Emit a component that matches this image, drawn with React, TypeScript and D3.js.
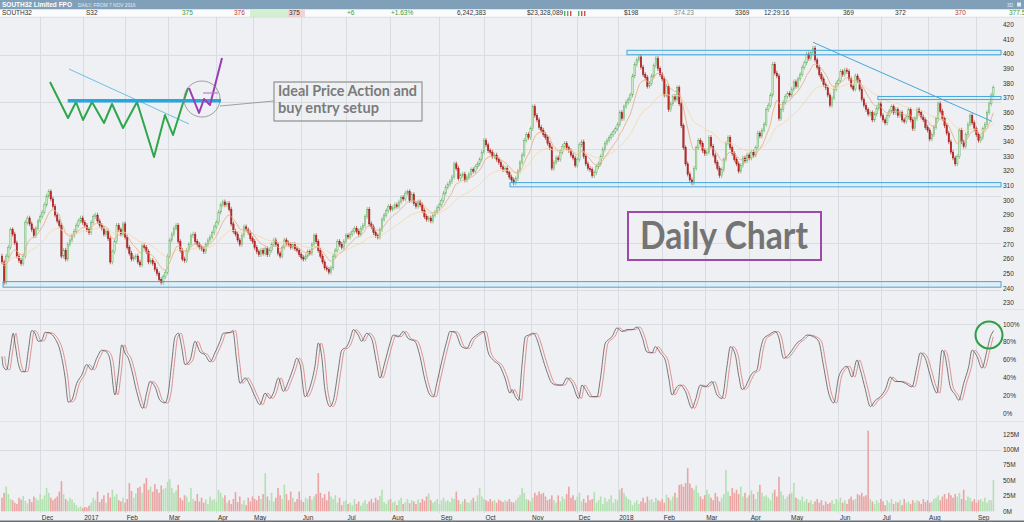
import React, { useRef, useEffect } from 'react';
import * as d3 from 'd3';

// daily closes (cents), one per trading day from 7 Nov 2016
const closes = [
  258, 244, 262, 268, 280, 277, 271, 262, 259, 257,
  262, 285, 288, 284, 280, 276, 281, 286, 289, 292,
  297, 303, 306, 301, 296, 290, 286, 283, 262, 266,
  260, 270, 273, 276, 279, 283, 286, 288, 285, 283,
  280, 278, 285, 289, 290, 286, 283, 281, 277, 279,
  274, 258, 265, 272, 283, 280, 277, 284, 275, 268,
  264, 260, 261, 262, 258, 256, 269, 268, 265, 258,
  259, 257, 253, 250, 246, 244, 248, 251, 262, 273,
  277, 281, 283, 272, 266, 260, 259, 266, 270, 276,
  277, 272, 270, 268, 267, 265, 270, 273, 275, 278,
  282, 285, 292, 297, 299, 297, 298, 294, 284, 279,
  277, 273, 270, 276, 282, 280, 278, 274, 272, 268,
  265, 263, 266, 264, 267, 263, 266, 270, 273, 270,
  264, 262, 268, 273, 271, 270, 268, 270, 267, 266,
  263, 261, 260, 262, 265, 264, 270, 276, 272, 266,
  262, 258, 254, 253, 251, 254, 262, 266, 272, 270,
  268, 272, 276, 275, 277, 279, 281, 279, 277, 281,
  283, 289, 294, 284, 282, 278, 276, 275, 280, 287,
  290, 293, 296, 294, 295, 297, 296, 299, 302, 301,
  305, 306, 300, 304, 298, 296, 299, 297, 293, 289,
  287, 288, 286, 290, 292, 295, 297, 300, 305, 309,
  311, 313, 316, 325, 322, 315, 317, 318, 314, 316,
  318, 321, 320, 323, 325, 328, 333, 341, 338, 334,
  333, 330, 331, 328, 326, 323, 321, 322, 319, 316,
  314, 312, 315, 320, 326, 331, 341, 345, 343, 349,
  364, 358, 355, 350, 348, 345, 343, 339, 336, 322,
  326, 329, 328, 333, 337, 339, 336, 334, 331, 329,
  324, 328, 338, 340, 330, 325, 322, 321, 317, 319,
  323, 325, 330, 335, 339, 341, 343, 345, 347, 349,
  352, 360, 356, 364, 367, 369, 372, 385, 393, 396,
  398, 391, 386, 384, 378, 380, 385, 392, 397, 390,
  386, 383, 372, 378, 362, 366, 371, 369, 377, 366,
  351, 336, 325, 318, 314, 312, 322, 336, 341, 339,
  334, 332, 333, 343, 337, 331, 326, 322, 317, 321,
  328, 339, 343, 336, 332, 328, 325, 320, 324, 329,
  327, 331, 329, 333, 331, 336, 346, 344, 348, 352,
  362, 365, 372, 393, 387, 385, 356, 362, 367, 371,
  373, 372, 376, 381, 378, 383, 386, 391, 394, 400,
  397, 401, 404, 396, 391, 386, 383, 379, 377, 372,
  365, 370, 376, 380, 382, 388, 386, 389, 388, 383,
  378, 376, 385, 382, 376, 369, 365, 362, 359, 360,
  355, 359, 363, 366, 358, 355, 353, 358, 361, 364,
  360, 362, 358, 360, 355, 354, 357, 362, 355, 349,
  356, 362, 360, 357, 355, 350, 348, 342, 345, 350,
  356, 366, 361, 356, 351, 346, 340, 333, 329, 325,
  330, 348, 340, 337, 345, 352, 358, 353, 349, 345,
  341, 343, 349, 352, 360, 366, 372, 377,
];
const firstOpen = 262;

// daily volume, millions of shares
const volumes = [
  22, 30, 40, 28, 20, 18, 14, 12, 22, 19,
  25, 17, 13, 20, 15, 24, 21, 18, 28, 20,
  26, 38, 30, 22, 18, 21, 24, 32, 49, 28,
  20, 17, 22, 19, 14, 10, 6, 8, 5, 7,
  6, 9, 14, 22, 18, 32, 15, 20, 26, 14,
  30, 22, 35, 24, 28, 18, 16, 22, 14, 20,
  46, 33, 22, 29, 38, 40, 30, 45, 54, 35,
  40, 32, 44, 36, 30, 42, 36, 38, 48, 52,
  38, 30, 34, 43, 22, 18, 26, 24, 15, 38,
  20, 17, 28, 16, 22, 14, 19, 12, 24, 18,
  20, 16, 35, 30, 22, 26, 14, 18, 12, 20,
  31, 15, 24, 12, 18, 10, 22, 16, 24, 20,
  18, 25, 20, 28, 62, 24, 18, 30, 16, 22,
  38, 26, 20, 43, 28, 18, 32, 22, 15, 20,
  32, 18, 15, 22, 20, 25, 19, 24, 28, 62,
  30, 22, 28, 18, 32, 24, 20, 26, 14, 22,
  10, 16, 18, 12, 14, 10, 20, 12, 16, 9,
  14, 18, 12, 16, 20, 14, 22, 18, 25, 35,
  15, 12, 18, 20, 14, 16, 10, 18, 22, 12,
  15, 20, 13, 18, 16, 12, 19, 14, 20, 17,
  24, 29, 18, 14, 16, 20, 12, 18, 22, 16,
  18, 15, 22, 20, 32, 18, 12, 16, 20, 15,
  14, 18, 22, 16, 26, 38, 24, 20, 18, 16,
  20, 16, 18, 14, 19, 17, 15, 18, 16, 20,
  15, 14, 18, 22, 26, 38, 30, 20, 18, 16,
  22, 30, 26, 32, 28, 30, 24, 18, 20, 26,
  18, 14, 26, 16, 24, 20, 28, 40, 22, 26,
  18, 24, 30, 16, 20, 14, 26, 18, 20, 31,
  14, 18, 24, 12, 22, 16, 20, 26, 14, 20,
  18, 35, 38, 30, 24, 20, 18, 10, 14, 18,
  12, 16, 22, 14, 24, 18, 20, 15, 22, 18,
  16, 20, 14, 27, 22, 18, 24, 30, 22, 43,
  44, 40, 46, 70, 45, 38, 35, 42, 30, 24,
  20, 26, 35, 28, 22, 18, 30, 24, 16, 22,
  28, 67, 32, 25, 38, 30, 35, 28, 40, 24,
  30, 22, 26, 34, 28, 20, 32, 43, 30, 24,
  26, 22, 18, 30, 35, 24, 56, 32, 26, 20,
  24, 28, 30, 46, 22, 20, 18, 24, 16, 20,
  14, 18, 12, 16, 20, 14, 18, 10, 16, 12,
  14, 18, 12, 20, 16, 22, 14, 18, 12, 20,
  24, 18, 20, 28, 26, 30, 24, 26, 131, 20,
  16, 12, 18, 14, 20, 16, 10, 18, 14, 20,
  12, 16, 14, 18, 10, 20, 14, 16, 12, 18,
  14, 18, 16, 12, 20, 15, 18, 14, 16, 20,
  22, 26, 18, 24, 28, 20, 30, 26, 22, 28,
  24, 30, 20, 35, 18, 24, 22, 16, 20, 14,
  18, 20, 16, 22, 14, 18, 18, 51,
];

// stochastic %K: [trading day index, value %]
const stochK = [
  [0, 64], [0.6, 53], [2.2, 49], [3.8, 71], [5.3, 90], [6.1, 79], [7.7, 56], [9.3, 47], [10.8, 47], [12.4, 71],
  [14, 93], [15.5, 90], [17.1, 81], [18.7, 82], [20.3, 91], [22.6, 90], [25, 84], [27.3, 71], [29.7, 41], [31.2, 13],
  [32.8, 15], [35.2, 34], [37.5, 43], [39.9, 55], [42.2, 49], [44.6, 62], [47, 71], [49.3, 69], [50.9, 60], [53.2, 21],
  [54.8, 45], [56.4, 77], [57.9, 68], [59.5, 62], [61.1, 49], [63.4, 25], [66.3, 6], [68.1, 23], [69.7, 36], [72.1, 30],
  [74.4, 15], [76.8, 12], [78.3, 23], [79.9, 56], [81.5, 86], [83.1, 90], [84.6, 75], [86.2, 55], [88.6, 60], [90.9, 81],
  [93.3, 69], [95.6, 66], [98, 58], [100.3, 68], [102.7, 81], [104.2, 90], [107.4, 91], [108.7, 93], [110.5, 60], [112.1, 34],
  [114.5, 40], [116.8, 32], [119.2, 19], [121.5, 10], [123.9, 23], [126.2, 17], [127.8, 23], [130.2, 40], [132.5, 25], [134.9, 36],
  [137.2, 51], [138.8, 62], [140.4, 55], [142.7, 19], [145.1, 30], [147.4, 53], [149, 79], [150.6, 64], [152.1, 27], [154.5, 8],
  [156.1, 15], [158.4, 49], [160, 71], [162.4, 75], [163.9, 83], [165.5, 94], [167.8, 88], [169.4, 81], [171.8, 90], [174.1, 84],
  [176.5, 56], [178, 40], [180.4, 58], [182.8, 79], [184.3, 88], [186.7, 86], [189, 92], [191.4, 84], [194.5, 81], [196.9, 64],
  [199.2, 38], [201.6, 21], [203.2, 19], [204.8, 34], [207.1, 58], [209.5, 81], [211, 92], [213.4, 91], [216.5, 75], [218.9, 73],
  [221.2, 83], [223.6, 88], [226.7, 92], [229.1, 68], [231.4, 60], [234.6, 53], [236.9, 40], [239.3, 23], [240.2, 27], [241.8, 19],
  [243.4, 15], [244.9, 53], [246.5, 86], [248.1, 88], [250.4, 90], [252, 83], [254.4, 64], [256.7, 47], [259.1, 34], [261.4, 32],
  [263.8, 32], [266.1, 40], [268.5, 34], [271.6, 17], [273.2, 32], [274.8, 27], [277.1, 19], [280.3, 19], [281.8, 38], [284.2, 79],
  [285.8, 83], [287.3, 86], [289.7, 96], [292, 92], [294.4, 94], [296.8, 94], [299.1, 97], [301.5, 86], [303.8, 69], [306.2, 68],
  [307.7, 75], [310.1, 68], [312.4, 60], [314, 41], [315.6, 21], [317.9, 30], [319.5, 32], [321.9, 25], [325, 6], [326.6, 15],
  [328.9, 32], [331.3, 30], [334.4, 36], [336.8, 21], [339.1, 17], [341.5, 53], [343.1, 75], [345.4, 66], [347, 43], [348.6, 27],
  [350.1, 30], [351.7, 38], [353.3, 45], [355.6, 49], [357.2, 71], [358.8, 84], [361.1, 88], [364.3, 92], [365.8, 86], [368.2, 62],
  [369.8, 64], [372.1, 71], [374.5, 79], [376.8, 83], [379.2, 88], [382.3, 86], [384.7, 81], [387, 53], [389.4, 23], [391.8, 12],
  [394.1, 41], [395.7, 49], [398, 53], [400.4, 41], [402.7, 60], [404.3, 49], [406.7, 27], [409, 8], [411.4, 15], [413.7, 19],
  [416.1, 27], [418.4, 41], [420.8, 36], [423.1, 36], [425.5, 34], [428.6, 30], [431, 53], [432.5, 68], [434.9, 62], [436.5, 49],
  [438.8, 30], [440.4, 23], [442.8, 71], [444.3, 64], [445.1, 53], [446.7, 30], [449.1, 21], [450.7, 15], [453, 34], [455.4, 53],
  [456.9, 71], [459.3, 64], [461.6, 51], [464, 71], [465.6, 86], [467.2, 93],
];

// ASX closed days inside the range
const holidays = [
  '2016-12-26', '2016-12-27', '2017-01-02', '2017-01-26', '2017-04-14', '2017-04-17', '2017-04-25',
  '2017-06-12', '2017-12-25', '2017-12-26', '2018-01-01', '2018-01-26', '2018-03-30', '2018-04-02',
  '2018-04-25', '2018-06-11',
];

// support / resistance boxes drawn on the chart: [low, high, first day index]
const zones = [
  [399.5, 402.5, 294.4],
  [368.9, 371, 412.6],
  [309.3, 312.2, 239.3],
  [240.8, 244.6, 0.5],
];
// down trend line: [day, price] -> [day, price]
const trendLine = [[382, 408], [466.3, 354]];

const priceTicks = d3.range(230, 421, 10);
const stochTicks = d3.range(0, 101, 20);
const volTicks = d3.range(0, 126, 25);

// header quote strip
const quoteCells = [
  { t: 'SOUTH32', x: 2, c: '#333' },
  { t: 'S32', x: 86, c: '#333' },
  { t: '375', x: 182, c: '#3d9a3d' },
  { t: '376', x: 234, c: '#c0392b' },
  { t: '375', x: 289, c: '#333' },
  { t: '+6', x: 347, c: '#3d9a3d' },
  { t: '+1.63%', x: 391, c: '#3d9a3d' },
  { t: '6,242,383', x: 457, c: '#333' },
  { t: '$23,328,089', x: 527, c: '#333' },
  { t: '$198', x: 624, c: '#333' },
  { t: '374.23', x: 674, c: '#888' },
  { t: '3369', x: 735, c: '#333' },
  { t: '12:29:16', x: 764, c: '#333' },
  { t: '369', x: 843, c: '#333' },
  { t: '372', x: 895, c: '#333' },
  { t: '370', x: 955, c: '#c0392b' },
  { t: '377.5', x: 1009, c: '#3d9a3d' },
];

// hand drawn "ideal setup" sketch, in its own little frame
const sketchGreen = [[0, 24], [18, 60], [26, 44], [33, 62], [42, 44], [54, 65], [62, 46], [73, 70], [87, 44], [104, 99], [115, 57], [123, 77], [133, 45], [138, 30]];
const sketchPurple = [[139, 30], [149, 55], [154, 41], [160, 47], [172, 0]];

const ema = (vals: number[], n: number) => {
  const k = 2 / (n + 1);
  const out: number[] = [];
  vals.forEach((v, i) => out.push(i === 0 ? v : v * k + out[i - 1] * (1 - k)));
  return out;
};

const FONT = 'Liberation Sans, Arial, sans-serif';

const App = () => {
  const ref = useRef<SVGSVGElement | null>(null);

  useEffect(() => {
    document.body.style.margin = '0';
    const svg = d3.select(ref.current);
    if (!ref.current) return;
    svg.selectAll('*').remove();

    const plotR = 1001;
    const x = d3.scaleLinear().domain([0, 467]).range([2, 993.4]);
    const yP = d3.scaleLinear().domain([230, 420]).range([303, 24.7]);
    const yS = d3.scaleLinear().domain([0, 100]).range([413.7, 324.3]);
    const yV = d3.scaleLinear().domain([0, 125]).range([511.3, 434.3]);

    // trading days -> month starts
    const fmt = d3.timeFormat('%Y-%m-%d');
    const days: Date[] = [];
    const d = new Date(2016, 10, 7);
    while (days.length < closes.length) {
      const dow = d.getDay();
      if (dow !== 0 && dow !== 6 && !holidays.includes(fmt(d))) days.push(new Date(d));
      d.setDate(d.getDate() + 1);
    }
    const monthStarts = days
      .map((day, i) => ({ day, i }))
      .filter(({ day, i }) => i > 0 && day.getMonth() !== days[i - 1].getMonth());

    // background
    svg.append('rect').attr('x', 0).attr('y', 0).attr('width', 1024).attr('height', 522).attr('fill', '#eef0f3');

    // grid
    const grid = svg.append('g').attr('stroke', '#d9dce1').attr('stroke-width', 1);
    grid.selectAll('line.v').data(monthStarts).enter().append('line')
      .attr('x1', (m) => Math.round(x(m.i)) + 0.5).attr('x2', (m) => Math.round(x(m.i)) + 0.5)
      .attr('y1', 17).attr('y2', 513);
    grid.selectAll('line.h').data(d3.range(399, 230, -32)).enter().append('line')
      .attr('x1', 0).attr('x2', plotR).attr('y1', (p) => Math.round(yP(p)) + 0.5).attr('y2', (p) => Math.round(yP(p)) + 0.5);
    grid.append('line').attr('x1', 0).attr('x2', plotR).attr('y1', Math.round(yS(100)) + 0.5).attr('y2', Math.round(yS(100)) + 0.5);
    grid.append('line').attr('x1', 0).attr('x2', plotR).attr('y1', Math.round(yV(100)) + 0.5).attr('y2', Math.round(yV(100)) + 0.5);
    grid.append('line').attr('x1', 0).attr('x2', 1024).attr('y1', 309.5).attr('y2', 309.5).attr('stroke', '#e1e3e7');
    grid.append('line').attr('x1', 0).attr('x2', 1024).attr('y1', 421.5).attr('y2', 421.5).attr('stroke', '#e1e3e7');

    // candles
    const candles = closes.map((c, i) => {
      const o = i === 0 ? firstOpen : closes[i - 1];
      return { i, o, c, up: c >= o };
    });
    const wickPad = 1.6;
    const bw = 1.4;
    const cg = svg.append('g');
    cg.selectAll('line').data(candles).enter().append('line')
      .attr('x1', (k) => x(k.i)).attr('x2', (k) => x(k.i))
      .attr('y1', (k) => yP(Math.max(k.o, k.c) + wickPad))
      .attr('y2', (k) => yP(Math.min(k.o, k.c) - wickPad))
      .attr('stroke', (k) => (k.up ? '#5aab5a' : '#a11a1a'))
      .attr('stroke-width', 0.6);
    cg.selectAll('rect').data(candles).enter().append('rect')
      .attr('x', (k) => x(k.i) - bw / 2)
      .attr('width', bw)
      .attr('y', (k) => yP(Math.max(k.o, k.c)))
      .attr('height', (k) => Math.max(1, yP(Math.min(k.o, k.c)) - yP(Math.max(k.o, k.c))))
      .attr('fill', (k) => (k.up ? '#d2eecd' : '#c72a26'))
      .attr('stroke', (k) => (k.up ? '#5aab5a' : '#9a1616'))
      .attr('stroke-width', 0.45);

    // moving averages
    const maLine = d3.line<number>().x((_, i) => x(i)).y((v) => yP(v)).curve(d3.curveMonotoneX);
    svg.append('path').attr('d', maLine(ema(closes, 30))).attr('fill', 'none').attr('stroke', '#f6d9ae').attr('stroke-width', 0.9);
    svg.append('path').attr('d', maLine(ema(closes, 10))).attr('fill', 'none').attr('stroke', '#e9b083').attr('stroke-width', 0.9);

    // zones and trend line
    svg.selectAll('rect.zone').data(zones).enter().append('rect')
      .attr('x', (z) => x(z[2])).attr('width', (z) => plotR - x(z[2]))
      .attr('y', (z) => yP(z[1])).attr('height', (z) => yP(z[0]) - yP(z[1]))
      .attr('fill', 'rgba(150,210,240,0.12)').attr('stroke', '#45a8dc').attr('stroke-width', 1);
    svg.append('line')
      .attr('x1', x(trendLine[0][0])).attr('y1', yP(trendLine[0][1]))
      .attr('x2', x(trendLine[1][0])).attr('y2', yP(trendLine[1][1]))
      .attr('stroke', '#45a8dc').attr('stroke-width', 1);

    // stochastic
    const stLine = d3.line<number[]>().x((p) => x(p[0])).y((p) => yS(p[1])).curve(d3.curveMonotoneX);
    const stochD = stochK.map((p) => [p[0] + 1.3, p[1]]).filter((p) => p[0] <= 467.2);
    svg.append('path').attr('d', stLine(stochD)).attr('fill', 'none').attr('stroke', '#d97a7a').attr('stroke-width', 0.8);
    svg.append('path').attr('d', stLine(stochK)).attr('fill', 'none').attr('stroke', '#444').attr('stroke-width', 0.7);

    // volume
    svg.append('g').selectAll('rect').data(volumes).enter().append('rect')
      .attr('x', (_, i) => x(i) - 0.8).attr('width', 1.6)
      .attr('y', (v) => yV(v)).attr('height', (v) => yV(0) - yV(v))
      .attr('fill', (_, i) => (candles[i].up ? '#b3e0b0' : '#eba3a3'));

    // right axis labels
    const axis = svg.append('g').attr('font-family', FONT).attr('font-size', 6.5).attr('fill', '#333');
    axis.selectAll('text.p').data(priceTicks).enter().append('text')
      .attr('x', 1003).attr('y', (p) => yP(p)).attr('dy', '0.35em').text((p) => String(p));
    axis.selectAll('text.s').data(stochTicks).enter().append('text')
      .attr('x', 1003).attr('y', (s) => yS(s)).attr('dy', '0.35em').text((s) => `${s}%`);
    axis.selectAll('text.v').data(volTicks).enter().append('text')
      .attr('x', 1003).attr('y', (v) => yV(v)).attr('dy', '0.35em').text((v) => `${v}M`);

    // bottom axis
    axis.selectAll('text.m').data(monthStarts).enter().append('text')
      .attr('x', (m) => x(m.i) + 1.5).attr('y', 519.5)
      .text((m) => (m.day.getMonth() === 0 ? d3.timeFormat('%Y')(m.day) : d3.timeFormat('%b')(m.day)));
    svg.append('rect').attr('x', 0).attr('y', 520.5).attr('width', 1024).attr('height', 1.5).attr('fill', '#6a6f75');

    // header
    svg.append('rect').attr('x', 0).attr('y', 0).attr('width', 1024).attr('height', 9.5).attr('fill', '#80a0ba');
    svg.append('rect').attr('x', 0).attr('y', 9.5).attr('width', 1024).attr('height', 7.5).attr('fill', '#fafbfc');
    svg.append('rect').attr('x', 250).attr('y', 9.5).attr('width', 38).attr('height', 7.5).attr('fill', '#d4efd2');
    svg.append('rect').attr('x', 288).attr('y', 9.5).attr('width', 17).attr('height', 7.5).attr('fill', '#f4d3d3');
    svg.append('line').attr('x1', 0).attr('x2', 1024).attr('y1', 17.2).attr('y2', 17.2).attr('stroke', '#cfd4da').attr('stroke-width', 0.6);
    svg.append('text').attr('x', 2).attr('y', 7.2).attr('font-family', FONT).attr('font-size', 7)
      .attr('font-weight', 'bold').attr('fill', '#fff').attr('textLength', 70).attr('lengthAdjust', 'spacingAndGlyphs')
      .text('SOUTH32 Limited FPO');
    svg.append('text').attr('x', 78).attr('y', 7).attr('font-family', FONT).attr('font-size', 4.8)
      .attr('fill', '#e4ecf3').text('DAILY, FROM 7 NOV 2016');
    svg.append('text').attr('x', 1007).attr('y', 7).attr('font-family', FONT).attr('font-size', 4.8)
      .attr('fill', '#e4ecf3').text('3D');
    svg.append('rect').attr('x', 1017).attr('y', 2.5).attr('width', 4).attr('height', 4).attr('fill', '#e4ecf3');
    svg.append('g').attr('font-family', FONT).attr('font-size', 6.5)
      .selectAll('text').data(quoteCells).enter().append('text')
      .attr('x', (q) => q.x).attr('y', 15.4).attr('fill', (q) => q.c).text((q) => q.t);
    [[564, '#5bb05b'], [567, '#5bb05b'], [570, '#d05050'], [578, '#5bb05b'], [581, '#d05050'], [584, '#d05050']].forEach(([bx, col]) => {
      svg.append('rect').attr('x', bx as number).attr('y', 11).attr('width', 1.4).attr('height', 5).attr('fill', col as string);
    });

    // sketch annotation
    const sx = d3.scaleLinear().domain([0, 172]).range([50, 222]);
    const sy = d3.scaleLinear().domain([0, 99]).range([58, 157]);
    const sk = d3.line<number[]>().x((p) => sx(p[0])).y((p) => sy(p[1]));
    const ann = svg.append('g').attr('fill', 'none').attr('stroke-linejoin', 'round');
    ann.append('path').attr('d', sk([[19, 11], [139, 66]])).attr('stroke', '#4cb2e2').attr('stroke-width', 0.8);
    ann.append('path').attr('d', sk(sketchGreen)).attr('stroke', '#2ea64a').attr('stroke-width', 2);
    ann.append('path').attr('d', sk([[17.7, 42.7], [171, 42.7]])).attr('stroke', '#27a6df').attr('stroke-width', 3.6);
    ann.append('path').attr('d', sk(sketchPurple)).attr('stroke', '#9a3db4').attr('stroke-width', 2);
    ann.append('path').attr('d', sk([[153, 35], [168, 35]])).attr('stroke', '#b77ccb').attr('stroke-width', 1.2);
    ann.append('circle').attr('cx', sx(152)).attr('cy', sy(41)).attr('r', 18).attr('stroke', '#7d7d7d').attr('stroke-width', 0.7);
    ann.append('path').attr('d', sk([[170, 48], [224, 43]])).attr('stroke', '#8a8a8a').attr('stroke-width', 0.8);
    ann.append('rect').attr('x', sx(224)).attr('y', sy(24)).attr('width', sx(372) - sx(224)).attr('height', sy(63) - sy(24))
      .attr('stroke', '#a0a0a0').attr('stroke-width', 1.4);
    const noteFont = 'Lato, Open Sans, sans-serif';
    svg.append('text').attr('x', 278).attr('y', 95.7).attr('font-family', noteFont).attr('font-weight', 'bold')
      .attr('font-size', 14.5).attr('fill', '#7b7b7b').attr('textLength', 139).attr('lengthAdjust', 'spacingAndGlyphs')
      .text('Ideal Price Action and');
    svg.append('text').attr('x', 278).attr('y', 113.3).attr('font-family', noteFont).attr('font-weight', 'bold')
      .attr('font-size', 14.5).attr('fill', '#7b7b7b').attr('textLength', 101).attr('lengthAdjust', 'spacingAndGlyphs')
      .text('buy entry setup');

    // title box
    svg.append('rect').attr('x', 628).attr('y', 212).attr('width', 193).attr('height', 48)
      .attr('fill', 'none').attr('stroke', '#9c4aa9').attr('stroke-width', 2);
    svg.append('text').attr('x', 640).attr('y', 249).attr('font-family', noteFont).attr('font-weight', 'bold')
      .attr('font-size', 38).attr('fill', '#747474').attr('textLength', 168).attr('lengthAdjust', 'spacingAndGlyphs')
      .text('Daily Chart');

    // overbought marker on the stochastic
    svg.append('circle').attr('cx', 989).attr('cy', 335).attr('r', 13.5)
      .attr('fill', 'none').attr('stroke', '#2f9c46').attr('stroke-width', 2);
  }, []);

  return <svg ref={ref as React.Ref<SVGSVGElement>} width={1024} height={522} style={{ display: 'block' }} />;
};

export default App;
